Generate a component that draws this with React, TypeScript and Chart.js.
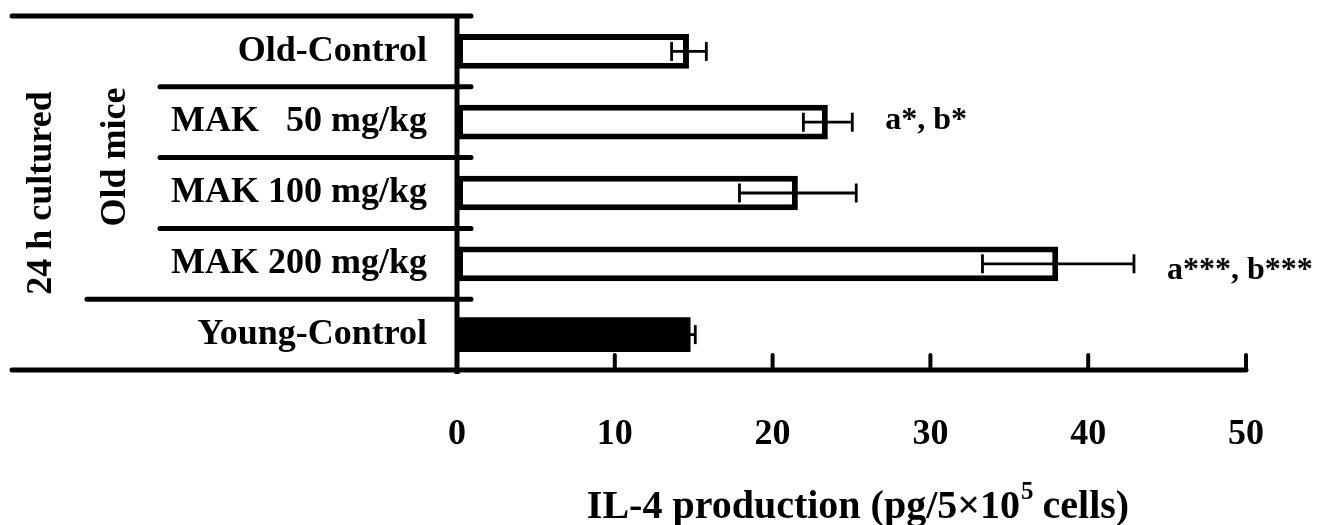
import React, { useEffect, useRef } from "react";
import { Chart, registerables } from "chart.js";

Chart.register(...registerables);

// ---------- data ----------
const categories = ["Old-Control", "MAK   50 mg/kg", "MAK 100 mg/kg", "MAK 200 mg/kg", "Young-Control"];
const meanValues = [14.7, 23.5, 21.6, 38.1, 14.8];
const errorValues = [1.1, 1.55, 3.7, 4.8, 0.3];
const fillColors = ["#ffffff", "#ffffff", "#ffffff", "#ffffff", "#000000"];
const significance = ["", "a*, b*", "", "a***, b***", ""];
const xTickValues = [0, 10, 20, 30, 40, 50];
const groupLabels = ["24 h cultured", "Old mice"];
const axisTitleParts = ["IL-4 production (pg/5×10", "5", " cells)"];

const FONT = '"Liberation Serif", "Times New Roman", Times, serif';

const decorPlugin = {
  id: "decor",
  afterDatasetsDraw(chart: any) {
    const { ctx } = chart;
    const xs = chart.scales.x;
    const ys = chart.scales.y;
    const x0 = xs.getPixelForValue(xTickValues[0]);
    const top = ys.top;
    const bottom = ys.bottom;
    const n = categories.length;
    const centers = categories.map((_, i) => ys.getPixelForValue(i));
    const bounds: number[] = [top];
    for (let i = 0; i < n - 1; i++) bounds.push((centers[i] + centers[i + 1]) / 2);
    bounds.push(bottom);

    const line = (x1: number, y1: number, x2: number, y2: number) => {
      ctx.beginPath();
      ctx.moveTo(x1, y1);
      ctx.lineTo(x2, y2);
      ctx.stroke();
    };

    ctx.save();
    ctx.strokeStyle = "#000";
    ctx.fillStyle = "#000";

    // error bars
    const meta = chart.getDatasetMeta(0);
    ctx.lineWidth = 2.8;
    ctx.lineCap = "butt";
    const annDy = [0, 7, 0, 15, 0];
    meta.data.forEach((bar: any, i: number) => {
      const y = bar.y;
      const xl = xs.getPixelForValue(meanValues[i] - errorValues[i]);
      const xr = xs.getPixelForValue(meanValues[i] + errorValues[i]);
      line(xl, y, xr, y);
      line(xl, y - 9.5, xl, y + 9.5);
      line(xr, y - 9.5, xr, y + 9.5);
      if (significance[i]) {
        ctx.font = `bold 32px ${FONT}`;
        ctx.textAlign = "left";
        ctx.textBaseline = "alphabetic";
        ctx.fillText(significance[i], xr + 33, y + annDy[i]);
      }
    });

    // frame lines
    ctx.lineCap = "round";
    ctx.lineWidth = 5;
    const leftEnds = [12, 160, 160, 160, 87, 12];
    bounds.forEach((y, i) => {
      line(leftEnds[i], y, i === n ? xs.right : x0 + 14, y);
    });
    // vertical axis
    ctx.lineCap = "butt";
    line(x0, top, x0, bottom + 4);
    // x tick marks (inward)
    ctx.lineCap = "round";
    ctx.lineWidth = 4;
    xTickValues.forEach((v) => {
      if (v === xTickValues[0]) return;
      const px = xs.getPixelForValue(v);
      line(px, bottom - 15, px, bottom);
    });

    // rotated group labels
    ctx.font = `bold 36px ${FONT}`;
    ctx.textAlign = "center";
    ctx.textBaseline = "middle";
    const groupPos = [
      [42, 193],
      [116, 157],
    ];
    groupLabels.forEach((t, i) => {
      ctx.save();
      ctx.translate(groupPos[i][0], groupPos[i][1]);
      ctx.rotate(-Math.PI / 2);
      ctx.fillText(t, 0, 0);
      ctx.restore();
    });

    // axis title with superscript
    const mainFont = `bold 40px ${FONT}`;
    const supFont = `bold 25px ${FONT}`;
    ctx.textAlign = "left";
    ctx.textBaseline = "alphabetic";
    ctx.font = mainFont;
    const w1 = ctx.measureText(axisTitleParts[0]).width;
    const w3 = ctx.measureText(axisTitleParts[2]).width;
    ctx.font = supFont;
    const w2 = ctx.measureText(axisTitleParts[1]).width;
    const total = w1 + w2 + w3;
    const cx = 858;
    const baseY = 518;
    let x = cx - total / 2;
    ctx.font = mainFont;
    ctx.fillText(axisTitleParts[0], x, baseY);
    x += w1;
    ctx.font = supFont;
    ctx.fillText(axisTitleParts[1], x + 1, baseY - 19);
    x += w2;
    ctx.font = mainFont;
    ctx.fillText(axisTitleParts[2], x, baseY);

    ctx.restore();
  },
};

export default function App() {
  const canvasRef = useRef<HTMLCanvasElement | null>(null);

  useEffect(() => {
    if (!canvasRef.current) return;
    const chart = new Chart(canvasRef.current, {
      type: "bar",
      data: {
        labels: categories,
        datasets: [
          {
            data: meanValues,
            backgroundColor: fillColors,
            borderColor: "#000000",
            borderWidth: fillColors.map((c) => (c === "#000000" ? 0 : 6)),
            borderSkipped: false,
            barPercentage: 0.49,
            categoryPercentage: 1,
          },
        ],
      },
      options: {
        indexAxis: "y",
        animation: false,
        responsive: true,
        maintainAspectRatio: false,
        layout: { padding: { top: 16, right: 71, left: 0, bottom: 0 } },
        plugins: {
          legend: { display: false },
          tooltip: { enabled: false },
          title: { display: false },
        },
        scales: {
          x: {
            type: "linear",
            position: "bottom",
            min: xTickValues[0],
            max: xTickValues[xTickValues.length - 1],
            grid: { display: false, drawTicks: false },
            border: { display: false },
            ticks: {
              stepSize: 10,
              padding: 43,
              color: "#000",
              font: { family: FONT, size: 36, weight: "bold" },
            },
            afterFit: (scale: any) => {
              scale.height = 155;
              scale.paddingLeft = 0;
              scale.paddingRight = 0;
            },
          },
          y: {
            type: "category",
            position: "left",
            offset: true,
            grid: { display: false, drawTicks: false },
            border: { display: false },
            ticks: {
              padding: 30,
              color: "#000",
              font: { family: FONT, size: 36, weight: "bold" },
            },
            afterFit: (scale: any) => {
              scale.width = 457;
              scale.paddingTop = 0;
              scale.paddingBottom = 0;
            },
          },
        },
      },
      plugins: [decorPlugin],
    } as any);
    return () => chart.destroy();
  }, []);

  return (
    <div style={{ position: "fixed", left: 0, top: 0, width: 1317, height: 525, background: "#fff" }}>
      <canvas ref={canvasRef} />
    </div>
  );
}
